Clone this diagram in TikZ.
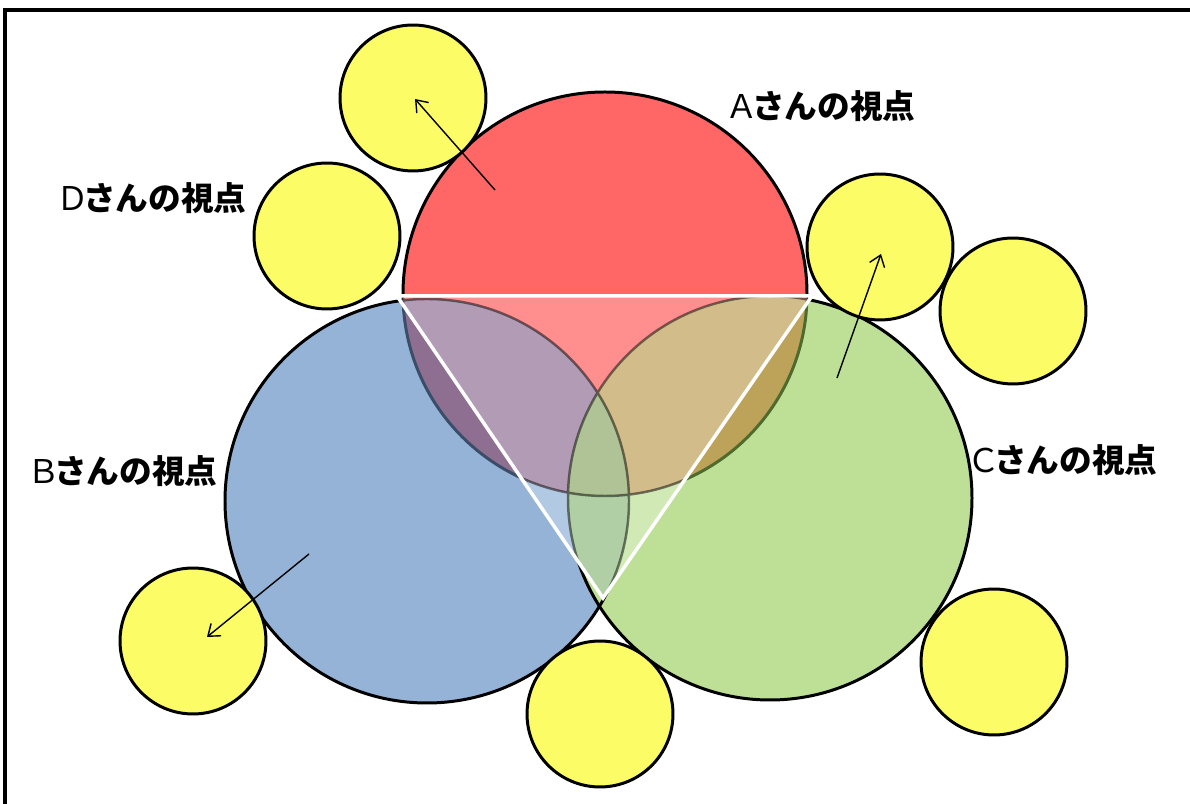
\documentclass[tikz,border=0pt]{standalone}
\usepackage{fontspec}
\newfontfamily\cjk{Noto Sans CJK JP}
\usetikzlibrary{arrows.meta}
\definecolor{yel}{HTML}{FCFC66}
\definecolor{redA}{HTML}{FF6666}
\definecolor{blueB}{HTML}{95B3D7}
\definecolor{greenC}{HTML}{BDE096}
\definecolor{rbOut}{HTML}{8F6F91}
\definecolor{rgOut}{HTML}{BDA25A}
\definecolor{redIn}{HTML}{FF8F8F}
\definecolor{blueIn}{HTML}{B1C9E2}
\definecolor{greenIn}{HTML}{D1E9B4}
\definecolor{bgIn}{HTML}{B0CFA5}
\definecolor{rbIn}{HTML}{B29BB5}
\definecolor{rgIn}{HTML}{D2BC8A}
\definecolor{rbgIn}{HTML}{AFC396}
\definecolor{edgeB}{HTML}{3A4E68}
\definecolor{edgeC}{HTML}{4E6A2C}
\tikzset{
  bigline/.style={line width=1.7pt},
  ycirc/.style={circle, draw=black, fill=yel, line width=1.7pt, minimum size=2.92cm, inner sep=0pt},
  viewarrow/.style={line width=0.8pt, -{Straight Barb[length=6pt,width=9pt]}},
  lbl/.style={anchor=west, inner sep=0pt, font=\cjk\fontsize{18.6pt}{21pt}\selectfont},
}
\newcommand{\vlabel}[1]{#1\kern-0.18em{\bfseries さんの視点}}
\begin{document}
\begin{tikzpicture}[x=0.02cm,y=0.02cm]
\useasboundingbox (0,0) rectangle (1190,804);
\coordinate (A) at (605,510);
\coordinate (B) at (427,303);
\coordinate (C) at (770,306);
\coordinate (T1) at (397,508);
\coordinate (T2) at (812,508);
\coordinate (T3) at (603,206);
\def\R{202}
% blue and green circles
\fill[blueB] (B) circle[radius=\R];
\fill[greenC] (C) circle[radius=\R];
\draw[bigline] (B) circle[radius=\R];
\draw[bigline] (C) circle[radius=\R];
% red lower half overlaps outside triangle
\begin{scope}
  \clip (0,0) rectangle (1190,508);
  \clip (A) circle[radius=\R];
  \fill[rbOut] (B) circle[radius=\R];
  \fill[rgOut] (C) circle[radius=\R];
\end{scope}
\begin{scope}
  \clip (0,0) rectangle (605,508);
  \draw[bigline, edgeB] (A) circle[radius=\R];
\end{scope}
\begin{scope}
  \clip (605,0) rectangle (1190,508);
  \draw[bigline, edgeC] (A) circle[radius=\R];
\end{scope}
% red upper half
\begin{scope}
  \clip (0,508) rectangle (1190,804);
  \fill[redA] (A) circle[radius=\R];
  \draw[bigline] (A) circle[radius=\R];
\end{scope}
% inside triangle
\begin{scope}
  \clip (T1) -- (T2) -- (T3) -- cycle;
  \fill[blueIn] (B) circle[radius=\R];
  \fill[greenIn] (C) circle[radius=\R];
  \begin{scope}\clip (B) circle[radius=\R]; \fill[bgIn] (C) circle[radius=\R];\end{scope}
  \fill[redIn] (A) circle[radius=\R];
  \begin{scope}\clip (A) circle[radius=\R]; \fill[rbIn] (B) circle[radius=\R];\end{scope}
  \begin{scope}\clip (A) circle[radius=\R]; \fill[rgIn] (C) circle[radius=\R];\end{scope}
  \begin{scope}\clip (A) circle[radius=\R]; \clip (B) circle[radius=\R]; \fill[rbgIn] (C) circle[radius=\R];\end{scope}
  \draw[line width=1.4pt, black, opacity=0.5] (A) circle[radius=\R] (B) circle[radius=\R] (C) circle[radius=\R];
\end{scope}
% white triangle
\draw[white, line width=2pt, line join=miter] (T1) -- (T2) -- (T3) -- cycle;
% yellow circles
\node[ycirc] (y1) at (413,706) {};
\node[ycirc] (y2) at (327,568) {};
\node[ycirc] (y3) at (880,557) {};
\node[ycirc] (y4) at (1013,493) {};
\node[ycirc] (y5) at (193,163) {};
\node[ycirc] (y6) at (600,90) {};
\node[ycirc] (y7) at (994,142) {};
% arrows
\coordinate (a1s) at (495,614); \coordinate (a1e) at (415,705);
\coordinate (a2s) at (837,426); \coordinate (a2e) at (881,550);
\coordinate (a3s) at (309,250); \coordinate (a3e) at (207,167);
\draw[viewarrow] (a1s) -- (a1e);
\draw[viewarrow] (a2s) -- (a2e);
\draw[viewarrow] (a3s) -- (a3e);
% labels
\node[lbl] (la) at (725,698) {\vlabel{Ａ}};
\node[lbl] (ld) at (56,606) {\vlabel{Ｄ}};
\node[lbl] (lb) at (27,333) {\vlabel{Ｂ}};
\node[lbl] (lc) at (967,344) {\vlabel{Ｃ}};
% frame
\draw[line width=1.8pt] (5,0) -- (5,794) -- (1190,794);
\end{tikzpicture}
\end{document}
